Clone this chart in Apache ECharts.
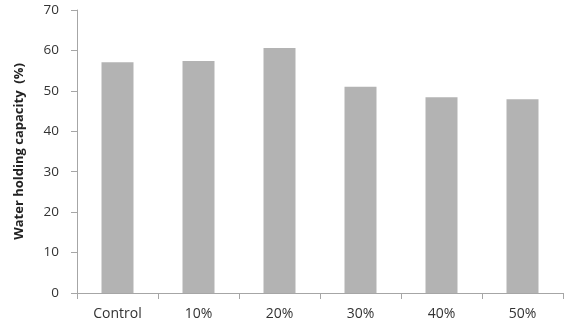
<!DOCTYPE html>
<html>
<head>
<meta charset="utf-8">
<script src="https://cdn.jsdelivr.net/npm/echarts@6/dist/echarts.min.js"></script>
<style>html,body{margin:0;padding:0;background:#fff}#c{width:567px;height:334px}</style>
</head>
<body>
<div id="c"></div>
<script>
const categories = ['Control', '10%', '20%', '30%', '40%', '50%'];
const values = [57.1, 57.4, 60.6, 51.0, 48.4, 47.9];
const yTicks = [0, 10, 20, 30, 40, 50, 60, 70];

const chart = echarts.init(document.getElementById('c'), null, {renderer: 'canvas'});
chart.setOption({
  animation: false,
  backgroundColor: '#fff',
  grid: {left: 77, right: 4, top: 10, bottom: 41},
  xAxis: {
    type: 'category',
    data: categories,
    axisLine: {lineStyle: {color: '#a6a6a6', width: 1}},
    axisTick: {show: true, alignWithLabel: false, length: 6, lineStyle: {color: '#a6a6a6'}},
    axisLabel: {color: '#333', fontSize: 14, fontFamily: 'Open Sans', margin: 14}
  },
  yAxis: {
    type: 'value',
    min: yTicks[0],
    max: yTicks[yTicks.length - 1],
    interval: 10,
    name: 'Water holding capacity  (%)',
    nameLocation: 'middle',
    nameGap: 51,
    nameTextStyle: {color: '#222', fontSize: 13, fontWeight: 'bold', fontFamily: 'Open Sans'},
    axisLine: {show: true, lineStyle: {color: '#a6a6a6', width: 1}},
    axisTick: {show: true, length: 6, lineStyle: {color: '#a6a6a6'}},
    splitLine: {show: false},
    axisLabel: {color: '#333', fontSize: 13.5, fontFamily: 'Open Sans', margin: 18}
  },
  series: [{
    type: 'bar',
    data: values,
    barWidth: 32,
    itemStyle: {color: '#b3b3b3'}
  }]
});
</script>
</body>
</html>
